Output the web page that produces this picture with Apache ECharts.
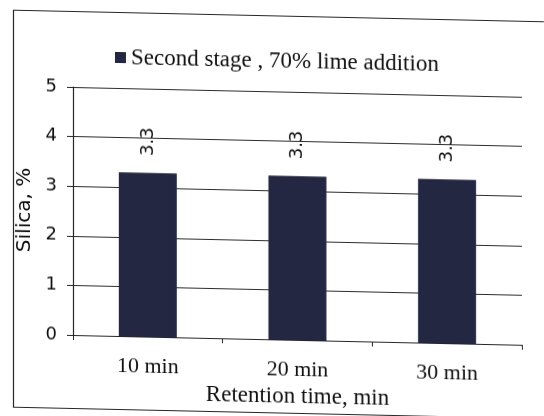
<!DOCTYPE html>
<html>
<head>
<meta charset="utf-8">
<script src="https://cdn.jsdelivr.net/npm/echarts@6/dist/echarts.min.js"></script>
<style>
  html, body { margin: 0; padding: 0; background: #ffffff; overflow: hidden; }
  #chart {
    width: 544px; height: 416px;
    transform-origin: 73px 335px;
    transform: skewY(1.25deg);
  }
</style>
</head>
<body>
<div id="chart"></div>
<script>
// Retention times and silica content after the second leaching stage
const categories = ['10 min', '20 min', '30 min'];
const silica = [3.3, 3.3, 3.3];
const seriesName = 'Second stage , 70% lime addition';
const yTicks = [0, 1, 2, 3, 4, 5];

const serif = '"Liberation Serif", "Times New Roman", serif';
const sans = '"DejaVu Sans", sans-serif';
const ink = '#0f0f0f';
const lineInk = '#262626';
const barColor = '#232741';

const chart = echarts.init(document.getElementById('chart'), null, { renderer: 'canvas' });

chart.setOption({
  backgroundColor: '#ffffff',
  animation: false,
  graphic: [{
    type: 'rect',
    left: 11, top: 9,
    shape: { width: 580, height: 397 },
    style: { fill: 'none', stroke: lineInk, lineWidth: 1.2 },
    silent: true
  }],
  legend: {
    data: [seriesName],
    top: 45,
    left: 115,
    padding: 0,
    icon: 'rect',
    itemWidth: 11,
    itemHeight: 11,
    itemGap: 4,
    textStyle: { fontFamily: serif, fontSize: 23, color: ink }
  },
  grid: { left: 73, right: 22, top: 87, bottom: 81, containLabel: false },
  xAxis: {
    type: 'category',
    data: categories,
    name: 'Retention time, min',
    nameLocation: 'middle',
    nameGap: 45,
    nameTextStyle: { fontFamily: serif, fontSize: 23, color: ink },
    axisLine: { lineStyle: { color: lineInk, width: 1.2 } },
    axisTick: { show: true, length: 5, alignWithLabel: false, lineStyle: { color: lineInk } },
    axisLabel: { margin: 19, fontFamily: serif, fontSize: 22, color: ink }
  },
  yAxis: {
    type: 'value',
    min: yTicks[0],
    max: yTicks[yTicks.length - 1],
    interval: 1,
    name: 'Silica, %',
    nameLocation: 'middle',
    nameGap: 17,
    nameRotate: 90,
    nameTextStyle: { fontFamily: sans, fontSize: 20, color: ink },
    axisLine: { show: true, lineStyle: { color: lineInk, width: 1.2 } },
    axisTick: { show: true, length: 6, lineStyle: { color: lineInk } },
    axisLabel: { margin: 16, fontFamily: sans, fontSize: 18, color: ink },
    splitLine: { show: true, lineStyle: { color: '#2c2c2c', width: 1.2 } }
  },
  series: [{
    name: seriesName,
    type: 'bar',
    data: silica,
    barWidth: 58,
    itemStyle: { color: barColor },
    label: {
      show: true,
      position: 'top',
      rotate: 90,
      align: 'left',
      verticalAlign: 'middle',
      distance: 17,
      fontFamily: sans,
      fontSize: 18,
      color: ink,
      formatter: p => p.value.toFixed(1)
    }
  }]
});
</script>
</body>
</html>
